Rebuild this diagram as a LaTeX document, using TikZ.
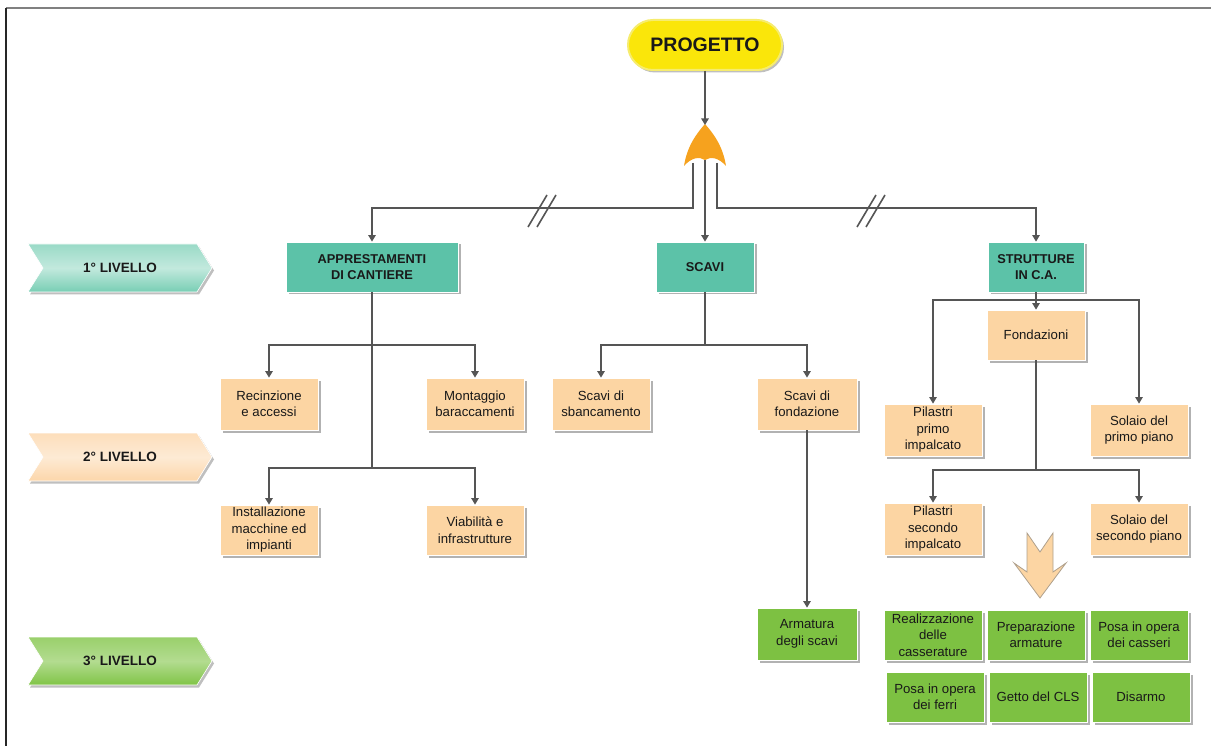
\documentclass[tikz,border=0pt]{standalone}
\usepackage{fontspec}
\setmainfont{Liberation Sans}
\usetikzlibrary{arrows.meta,shapes.symbols,shadows}
\definecolor{teal1}{RGB}{92,194,168}
\definecolor{peach}{RGB}{252,213,163}
\definecolor{grn}{RGB}{125,193,66}
\definecolor{lineC}{RGB}{85,85,85}
\definecolor{txt}{RGB}{25,25,25}
\definecolor{orangeC}{RGB}{246,162,30}
\definecolor{yel}{RGB}{250,230,10}
\definecolor{yelB}{RGB}{246,236,110}
\definecolor{lv1}{RGB}{120,206,180}
\definecolor{lv2}{RGB}{252,214,170}
\definecolor{lv3}{RGB}{128,196,70}
\definecolor{arrB}{RGB}{175,160,140}
\begin{document}
\begin{tikzpicture}[x=1pt,y=-1pt,
  box/.style={draw=white, line width=0.8pt, minimum width=98pt, minimum height=50pt,
    inner sep=1pt, align=center, text=txt, font=\fontsize{13.2}{16.5}\selectfont,
    drop shadow={shadow xshift=2.5pt, shadow yshift=-2.5pt, fill=black, opacity=0.3}},
  b1/.style={box, fill=teal1, font=\bfseries\fontsize{12.8}{15.5}\selectfont},
  b2/.style={box, fill=peach},
  b3/.style={box, fill=grn},
  lvl/.style={signal, signal to=east, signal from=west, signal pointer angle=116,
    minimum width=184pt, minimum height=48pt, inner sep=0pt, text=txt,
    font=\bfseries\fontsize{13.5}{15}\selectfont, draw=white, line width=0.6pt,
    drop shadow={shadow xshift=2pt, shadow yshift=-2.5pt, fill=black, opacity=0.25}},
  line/.style={draw=lineC, line width=1.1pt},
  conn/.style={line, -{Triangle[width=7.5pt,length=6.5pt]}},
  slash/.style={draw=lineC, line width=1.6pt}
]
\useasboundingbox (0,0) rectangle (1211,746);
% frame
\draw[line width=1.6pt, draw=gray] (6,8) -- (1211,8);
\draw[line width=1.6pt, draw=black!85] (6,8) -- (6,746);

% level chevrons
\node[lvl, top color=lv1!75!white, bottom color=lv1, middle color=lv1!45!white] (lv1) at (120,268) {1° LIVELLO};
\node[lvl, top color=lv2!80!white, bottom color=lv2, middle color=lv2!50!white] (lv2) at (120,457) {2° LIVELLO};
\node[lvl, top color=lv3!80!white, bottom color=lv3, middle color=lv3!60!white] (lv3) at (120,661) {3° LIVELLO};

% PROGETTO
\node[draw=yelB, line width=2pt, fill=yel, rounded corners=25pt, minimum width=154pt,
  minimum height=50pt, font=\bfseries\fontsize{19.5}{22}\selectfont, text=txt,
  drop shadow={shadow xshift=2pt, shadow yshift=-2.5pt, fill=black, opacity=0.25}]
  (prog) at (705,45) {PROGETTO};

% OR gate
\fill[orangeC] (684,166) .. controls (687,146) and (697,133) .. (705,124)
  .. controls (713,133) and (723,146) .. (726,166)
  .. controls (719,158) and (711,156) .. (705,160)
  .. controls (699,156) and (691,158) .. (684,166) -- cycle;
\coordinate (gtop) at (705,125);
\coordinate (gl) at (693,163);
\coordinate (gr) at (717,163);
\coordinate (gc) at (705,160);
\coordinate (busY) at (0,208);

% level 1
\node[b1, minimum width=172pt] (app) at (372,267) {APPRESTAMENTI\\DI CANTIERE};
\node[b1] (scavi) at (705,267) {SCAVI};
\node[b1, minimum width=96pt] (strut) at (1036,267) {STRUTTURE\\IN C.A.};

% level 2
\node[b2, minimum height=52pt] (rec) at (269,404) {Recinzione\\e accessi};
\node[b2, minimum height=52pt] (mon) at (475,404) {Montaggio\\baraccamenti};
\node[b2] (inst) at (269,530) {Installazione\\macchine ed\\impianti};
\node[b2] (via) at (475,530) {Viabilità e\\infrastrutture};
\node[b2, minimum height=52pt] (sba) at (601,404) {Scavi di\\sbancamento};
\node[b2, minimum height=52pt, minimum width=100pt] (fon) at (807,404) {Scavi di\\fondazione};
\node[b2] (fond) at (1036,335) {Fondazioni};
\node[b2, minimum height=52pt] (pil1) at (933,430) {Pilastri\\primo\\impalcato};
\node[b2, minimum height=52pt] (sol1) at (1139,430) {Solaio del\\primo piano};
\node[b2, minimum height=52pt] (pil2) at (933,529) {Pilastri\\secondo\\impalcato};
\node[b2, minimum height=52pt] (sol2) at (1139,529) {Solaio del\\secondo piano};

% level 3
\node[b3, minimum height=52pt, minimum width=100pt] (arm) at (807,634) {Armatura\\degli scavi};
\node[b3] (r11) at (933,635) {Realizzazione\\delle\\casserature};
\node[b3] (r12) at (1036,635) {Preparazione\\armature};
\node[b3] (r13) at (1139,635) {Posa in opera\\dei casseri};
\node[b3] (r21) at (935,697) {Posa in opera\\dei ferri};
\node[b3] (r22) at (1038,697) {Getto del CLS};
\node[b3] (r23) at (1141,697) {Disarmo};

% big arrow
\draw[fill=peach, draw=arrB, line width=0.8pt, line join=miter]
  (1027,533) -- (1040,552) -- (1053,533) -- (1053,572) -- (1066,563) -- (1040,598)
  -- (1014,563) -- (1027,572) -- cycle;

% connectors from top
\draw[conn] (prog.south) -- (gtop);
\draw[conn] (gc) -- (scavi.north);
\draw[conn] (gl) -- (gl |- busY) -| (app.north);
\draw[conn] (gr) -- (gr |- busY) -| (strut.north);
\draw[slash] (528,227) -- (547,195);
\draw[slash] (537,227) -- (556,195);
\draw[slash] (857,227) -- (876,195);
\draw[slash] (866,227) -- (885,195);

% apprestamenti
\coordinate (a1) at (372,345);
\coordinate (a2) at (372,468);
\draw[line] (app.south) -- (a2);
\draw[conn] (a1) -| (rec.north);
\draw[conn] (a1) -| (mon.north);
\draw[conn] (a2) -| (inst.north);
\draw[conn] (a2) -| (via.north);

% scavi
\coordinate (s1) at (705,345);
\draw[line] (scavi.south) -- (s1);
\draw[conn] (s1) -| (sba.north);
\draw[conn] (s1) -| (fon.north);
\draw[conn] (fon.south) -- (arm.north);

% strutture
\coordinate (t1) at (1036,300);
\draw[line] (strut.south) -- (t1);
\draw[conn] (t1) -- (fond.north);
\draw[conn] (t1) -| (pil1.north);
\draw[conn] (t1) -| (sol1.north);
\coordinate (t2) at (1036,470);
\draw[line] (fond.south) -- (t2);
\draw[conn] (t2) -| (pil2.north);
\draw[conn] (t2) -| (sol2.north);
\end{tikzpicture}
\end{document}
